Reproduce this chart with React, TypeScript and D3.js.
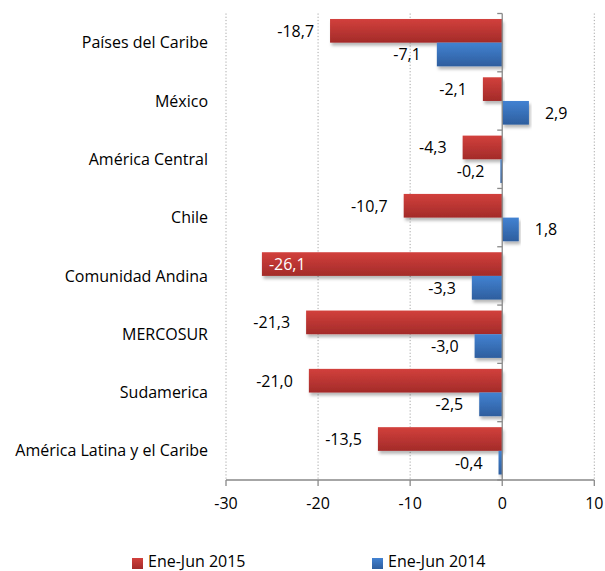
import React from "react";
import * as d3 from "d3";

const categories = [
  "Países del Caribe",
  "México",
  "América Central",
  "Chile",
  "Comunidad Andina",
  "MERCOSUR",
  "Sudamerica",
  "América Latina y el Caribe",
];
const series2015 = [-18.7, -2.1, -4.3, -10.7, -26.1, -21.3, -21.0, -13.5];
const series2014 = [-7.1, 2.9, -0.2, 1.8, -3.3, -3.0, -2.5, -0.4];
const xTicks = [-30, -20, -10, 0, 10];
const seriesNames = ["Ene-Jun 2015", "Ene-Jun 2014"];

const W = 605;
const H = 571;
const left = 226;
const right = 594.3;
const top = 13.5;
const bottom = 480;
const FONT = "'Open Sans', sans-serif";
const FS = 16;

export default function App() {
  const x = d3.scaleLinear().domain([-30, 10]).range([left, right]);
  const y = d3.scaleBand<string>().domain(categories).range([top, bottom]).paddingInner(0.188).paddingOuter(0.094);
  const bh = y.bandwidth() / 2;
  const fmt = (v: number) => d3.format(".1f")(v).replace(".", ",").replace("\u2212", "-");
  const series = [
    { name: seriesNames[0], values: series2015, grad: "gRed", off: 0 },
    { name: seriesNames[1], values: series2014, grad: "gBlue", off: bh },
  ];
  const step = (bottom - top) / categories.length;
  const labelW = (s: string) => s.length * 8.4;

  return (
    <svg width={W} height={H} style={{ position: "absolute", left: 0, top: 0 }} fontFamily={FONT}>
      <defs>
        <linearGradient id="gRed" x1="0" y1="0" x2="0" y2="1">
          <stop offset="0" stopColor="#d2403c" />
          <stop offset="1" stopColor="#a32b29" />
        </linearGradient>
        <linearGradient id="gBlue" x1="0" y1="0" x2="0" y2="1">
          <stop offset="0" stopColor="#4282d2" />
          <stop offset="1" stopColor="#2e5e9e" />
        </linearGradient>
        <filter id="shadow" x="-10%" y="-30%" width="120%" height="180%">
          <feDropShadow dx="1.5" dy="3" stdDeviation="1.8" floodColor="#000" floodOpacity="0.28" />
        </filter>
      </defs>
      <rect width={W} height={H} fill="#fff" />
      {xTicks.filter((t) => t !== 0).map((t) => (
        <line key={t} x1={x(t)} x2={x(t)} y1={top} y2={bottom} stroke="#a6a6a6" strokeDasharray="1.2,2" strokeWidth={1} />
      ))}
      {series.map((s) =>
        s.values.map((v, i) => {
          const y0 = (y(categories[i]) as number) + s.off;
          return (
            <rect
              key={s.name + i}
              x={Math.min(x(v), x(0))}
              y={y0}
              width={Math.abs(x(v) - x(0))}
              height={bh}
              fill={`url(#${s.grad})`}
              filter="url(#shadow)"
            />
          );
        })
      )}
      {/* axes */}
      <line x1={x(0)} x2={x(0)} y1={top} y2={bottom} stroke="#898989" strokeWidth={1.3} />
      {d3.range(categories.length + 1).map((i) => (
        <line key={i} x1={x(0) - 5} x2={x(0)} y1={top + i * step} y2={top + i * step} stroke="#898989" strokeWidth={1.3} />
      ))}
      <line x1={left} x2={right} y1={bottom} y2={bottom} stroke="#898989" strokeWidth={1.3} />
      {xTicks.map((t) => (
        <g key={t}>
          <line x1={x(t)} x2={x(t)} y1={bottom} y2={bottom + 6} stroke="#898989" strokeWidth={1.3} />
          <text x={x(t)} y={bottom + 29} textAnchor="middle" fontSize={FS} fill="#000">
            {String(t)}
          </text>
        </g>
      ))}
      {categories.map((c) => (
        <text key={c} x={208} y={(y(c) as number) + y.bandwidth() / 2 + 5.6} textAnchor="end" fontSize={FS} fill="#000">
          {c}
        </text>
      ))}
      {series.map((s) =>
        s.values.map((v, i) => {
          const yc = (y(categories[i]) as number) + s.off + bh / 2 + 6;
          const label = fmt(v);
          if (v < 0) {
            const end = x(v) - 16;
            if (end - labelW(label) < left - 5) {
              return (
                <text key={s.name + "l" + i} x={x(v) + 7} y={yc} fontSize={FS} fill="#fff">
                  {label}
                </text>
              );
            }
            return (
              <text key={s.name + "l" + i} x={end} y={yc} textAnchor="end" fontSize={FS} fill="#000">
                {label}
              </text>
            );
          }
          return (
            <text key={s.name + "l" + i} x={x(v) + 16} y={yc} fontSize={FS} fill="#000">
              {label}
            </text>
          );
        })
      )}
      {/* legend */}
      {series.map((s, i) => {
        const lx = i === 0 ? 132 : 372;
        return (
          <g key={s.name}>
            <rect x={lx} y={558} width={11} height={11} fill={`url(#${s.grad})`} />
            <text x={lx + 16} y={566.5} fontSize={FS} fill="#000">
              {s.name}
            </text>
          </g>
        );
      })}
    </svg>
  );
}
